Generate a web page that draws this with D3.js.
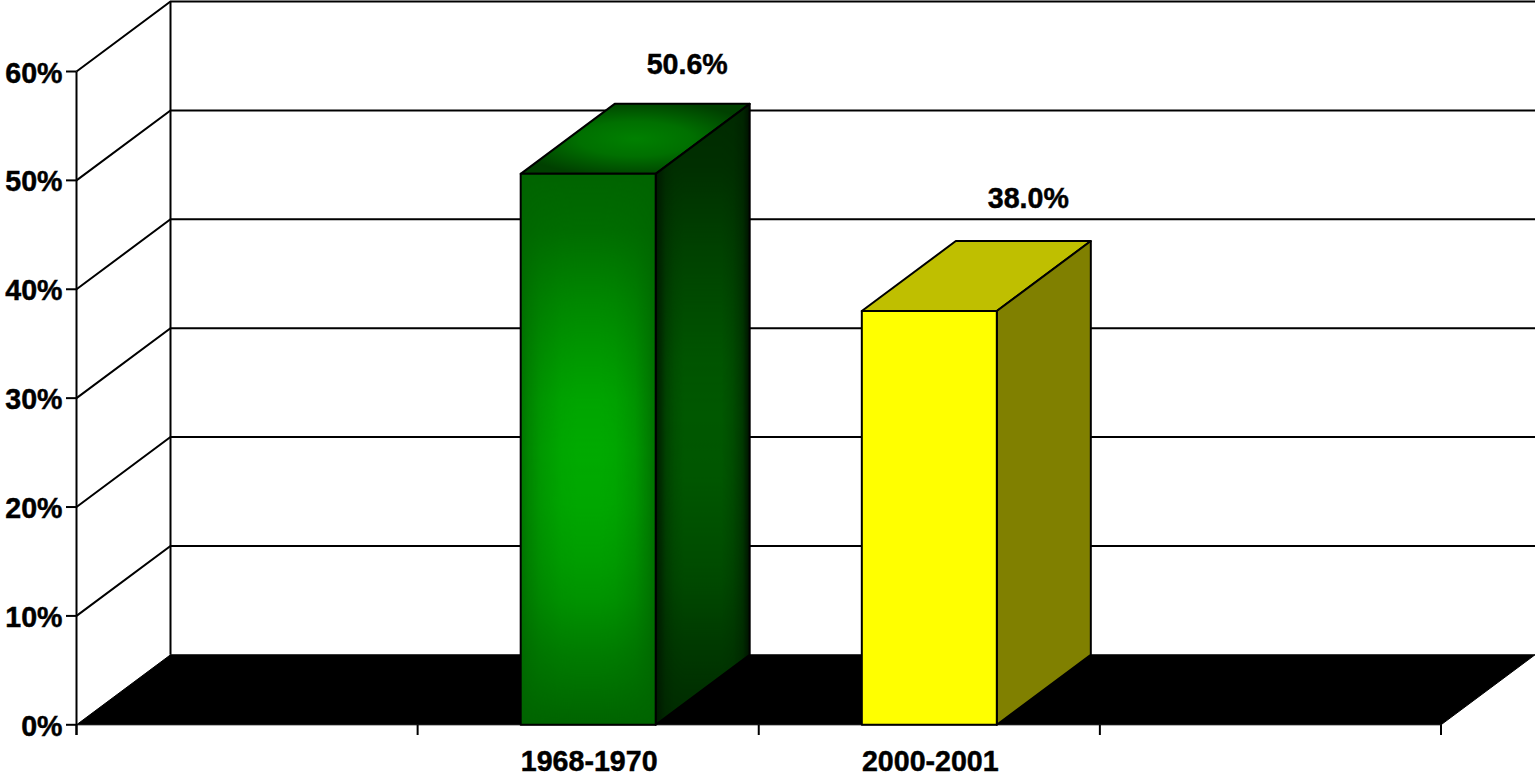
<!DOCTYPE html>
<html><head><meta charset="utf-8">
<script src="https://cdn.jsdelivr.net/npm/d3@7"></script>
<style>html,body{margin:0;padding:0;background:#fff;overflow:hidden}svg{display:block}text{font-family:"Liberation Sans",Arial,sans-serif;font-weight:700;fill:#000;stroke:#000;stroke-width:.45px}</style>
</head><body><svg id="c" width="1536" height="778"></svg>
<script>
const categories = ["", "1968-1970", "2000-2001", ""];
const seriesValues = [null, 50.6, 38.0, null];
const valueLabels = ["", "50.6%", "38.0%", ""];
const yTicks = [0, 10, 20, 30, 40, 50, 60];

const svg = d3.select("#c");
const defs = svg.append("defs");
const depth = {x: 94, y: -70};
const x = d3.scaleBand().domain(d3.range(categories.length)).range([76.5, 1441]);
const y = d3.scaleLinear().domain([0, 60]).range([724.8, 71.5]);
const barW = 135;

function lin(id, x1, y1, x2, y2, stops) {
  const g = defs.append("linearGradient").attr("id", id)
    .attr("x1", x1).attr("y1", y1).attr("x2", x2).attr("y2", y2);
  stops.forEach(s => g.append("stop").attr("offset", s[0]).attr("stop-color", s[1]).attr("stop-opacity", s[2] === undefined ? 1 : s[2]));
}
// horizontal glow profiles
lin("gGlowF", 0, 0, 1, 0, [[0, "#00aa00", .25], [.06, "#00aa00", .5], [.15, "#00aa00", .75], [.3, "#00aa00", .95], [.42, "#00aa00", 1], [.58, "#00aa00", 1], [.7, "#00aa00", .95], [.85, "#00aa00", .72], [.94, "#00aa00", .42], [1, "#00aa00", .2]]);
lin("gGlowS", 0, 0, 1, 0, [[0, "#005800", .2], [.12, "#005800", .7], [.3, "#005800", 1], [.7, "#005800", 1], [.9, "#005800", .6], [1, "#005800", .2]]);
lin("gEdgeS", 0, 0, 1, 0, [[0, "#000", .45], [.1, "#000", .1], [.2, "#000", 0], [.82, "#000", 0], [.93, "#000", .15], [1, "#000", .6]]);
// vertical falloff used as a mask for the glow
const grey = a => d3.rgb(a * 255, a * 255, a * 255).formatHex();
lin("gMaskV", 0, 0, 0, 1, [[0, 0], [.1, .12], [.23, .5], [.32, .72], [.41, .92], [.5, 1], [.6, .96], [.7, .82], [.77, .68], [.87, .35], [1, 0]].map(s => [s[0], grey(s[1])]));
defs.append("mask").attr("id", "mV").attr("maskContentUnits", "objectBoundingBox")
  .attr("x", 0).attr("y", 0).attr("width", 1).attr("height", 1)
  .append("rect").attr("width", 1).attr("height", 1).attr("fill", "url(#gMaskV)");
const rg = defs.append("radialGradient").attr("id", "gTop").attr("cx", .5).attr("cy", .5).attr("r", .55);
[[0, "#008000"], [.45, "#007000"], [1, "#004000"]].forEach(s => rg.append("stop").attr("offset", s[0]).attr("stop-color", s[1]));

const back = {x0: x.range()[0] + depth.x, x1: x.range()[1] + depth.x};
const axisLayer = svg.append("g").attr("stroke", "#000").attr("stroke-width", 2).attr("fill", "none");

// floor
svg.append("path").attr("fill", "#000").attr("stroke", "#000").attr("stroke-width", 1).attr("d",
  d3.line()([[x.range()[0], y(0)], [x.range()[1], y(0)], [back.x1, y(0) + depth.y], [back.x0, y(0) + depth.y]]) + "Z");

// walls, gridlines
yTicks.forEach(t => {
  const yy = y(t);
  if (t > 0) axisLayer.append("path").attr("d", d3.line()([[x.range()[0], yy], [back.x0, yy + depth.y], [back.x1, yy + depth.y]]));
  axisLayer.append("line").attr("x1", 66).attr("x2", x.range()[0]).attr("y1", yy).attr("y2", yy);
});
axisLayer.append("line").attr("x1", x.range()[0]).attr("x2", x.range()[0]).attr("y1", y(60)).attr("y2", 735);
axisLayer.append("line").attr("x1", back.x0).attr("x2", back.x0).attr("y1", y(60) + depth.y).attr("y2", y(0) + depth.y);

// x ticks
d3.range(categories.length + 1).forEach(i => {
  const tx = i < categories.length ? x(i) : x.range()[1];
  axisLayer.append("line").attr("x1", tx).attr("x2", tx).attr("y1", y(0)).attr("y2", 735);
});

// y labels
svg.selectAll("text.yl").data(yTicks).join("text").attr("class", "yl")
  .attr("x", 62.5).attr("y", d => y(d) + 11).attr("text-anchor", "end").attr("font-size", 28.6)
  .text(d => d + "%");

// bars
categories.forEach((c, i) => {
  const v = seriesValues[i];
  if (v === null) return;
  const cx = x(i) + x.bandwidth() / 2;
  const l = cx - barW / 2, r = cx + barW / 2, t = y(v), b = y(0);
  const g = svg.append("g");
  const line = d3.line();
  const top = line([[l, t], [r, t], [r + depth.x, t + depth.y], [l + depth.x, t + depth.y]]) + "Z";
  const side = line([[r, t], [r + depth.x, t + depth.y], [r + depth.x, b + depth.y], [r, b]]) + "Z";
  const front = line([[l, t], [r, t], [r, b], [l, b]]) + "Z";
  const green = i === 1;
  const add = (d, fill, stroked, mask) => {
    const p = g.append("path").attr("d", d).attr("fill", fill);
    if (stroked) p.attr("stroke", "#000").attr("stroke-width", 2).attr("stroke-linejoin", "round");
    if (mask) p.attr("mask", "url(#mV)");
  };
  add(top, green ? "url(#gTop)" : "#bfbf00", true);
  if (green) {
    add(side, "#002a00", false);
    add(side, "url(#gGlowS)", false, true);
    add(side, "url(#gEdgeS)", true);
    add(front, "#006400", false);
    add(front, "url(#gGlowF)", false, true);
    add(front, "none", true);
  } else {
    add(side, "#808000", true);
    add(front, "#ffff00", true);
  }
  // value label
  svg.append("text").attr("x", r + depth.x / 2 - 15.5).attr("y", t + depth.y - (green ? 30 : 33))
    .attr("text-anchor", "middle").attr("font-size", 28.6).text(valueLabels[i]);
  // category label
  svg.append("text").attr("x", cx + 1).attr("y", 771).attr("text-anchor", "middle").attr("font-size", 28.6).text(c);
});
</script></body></html>
